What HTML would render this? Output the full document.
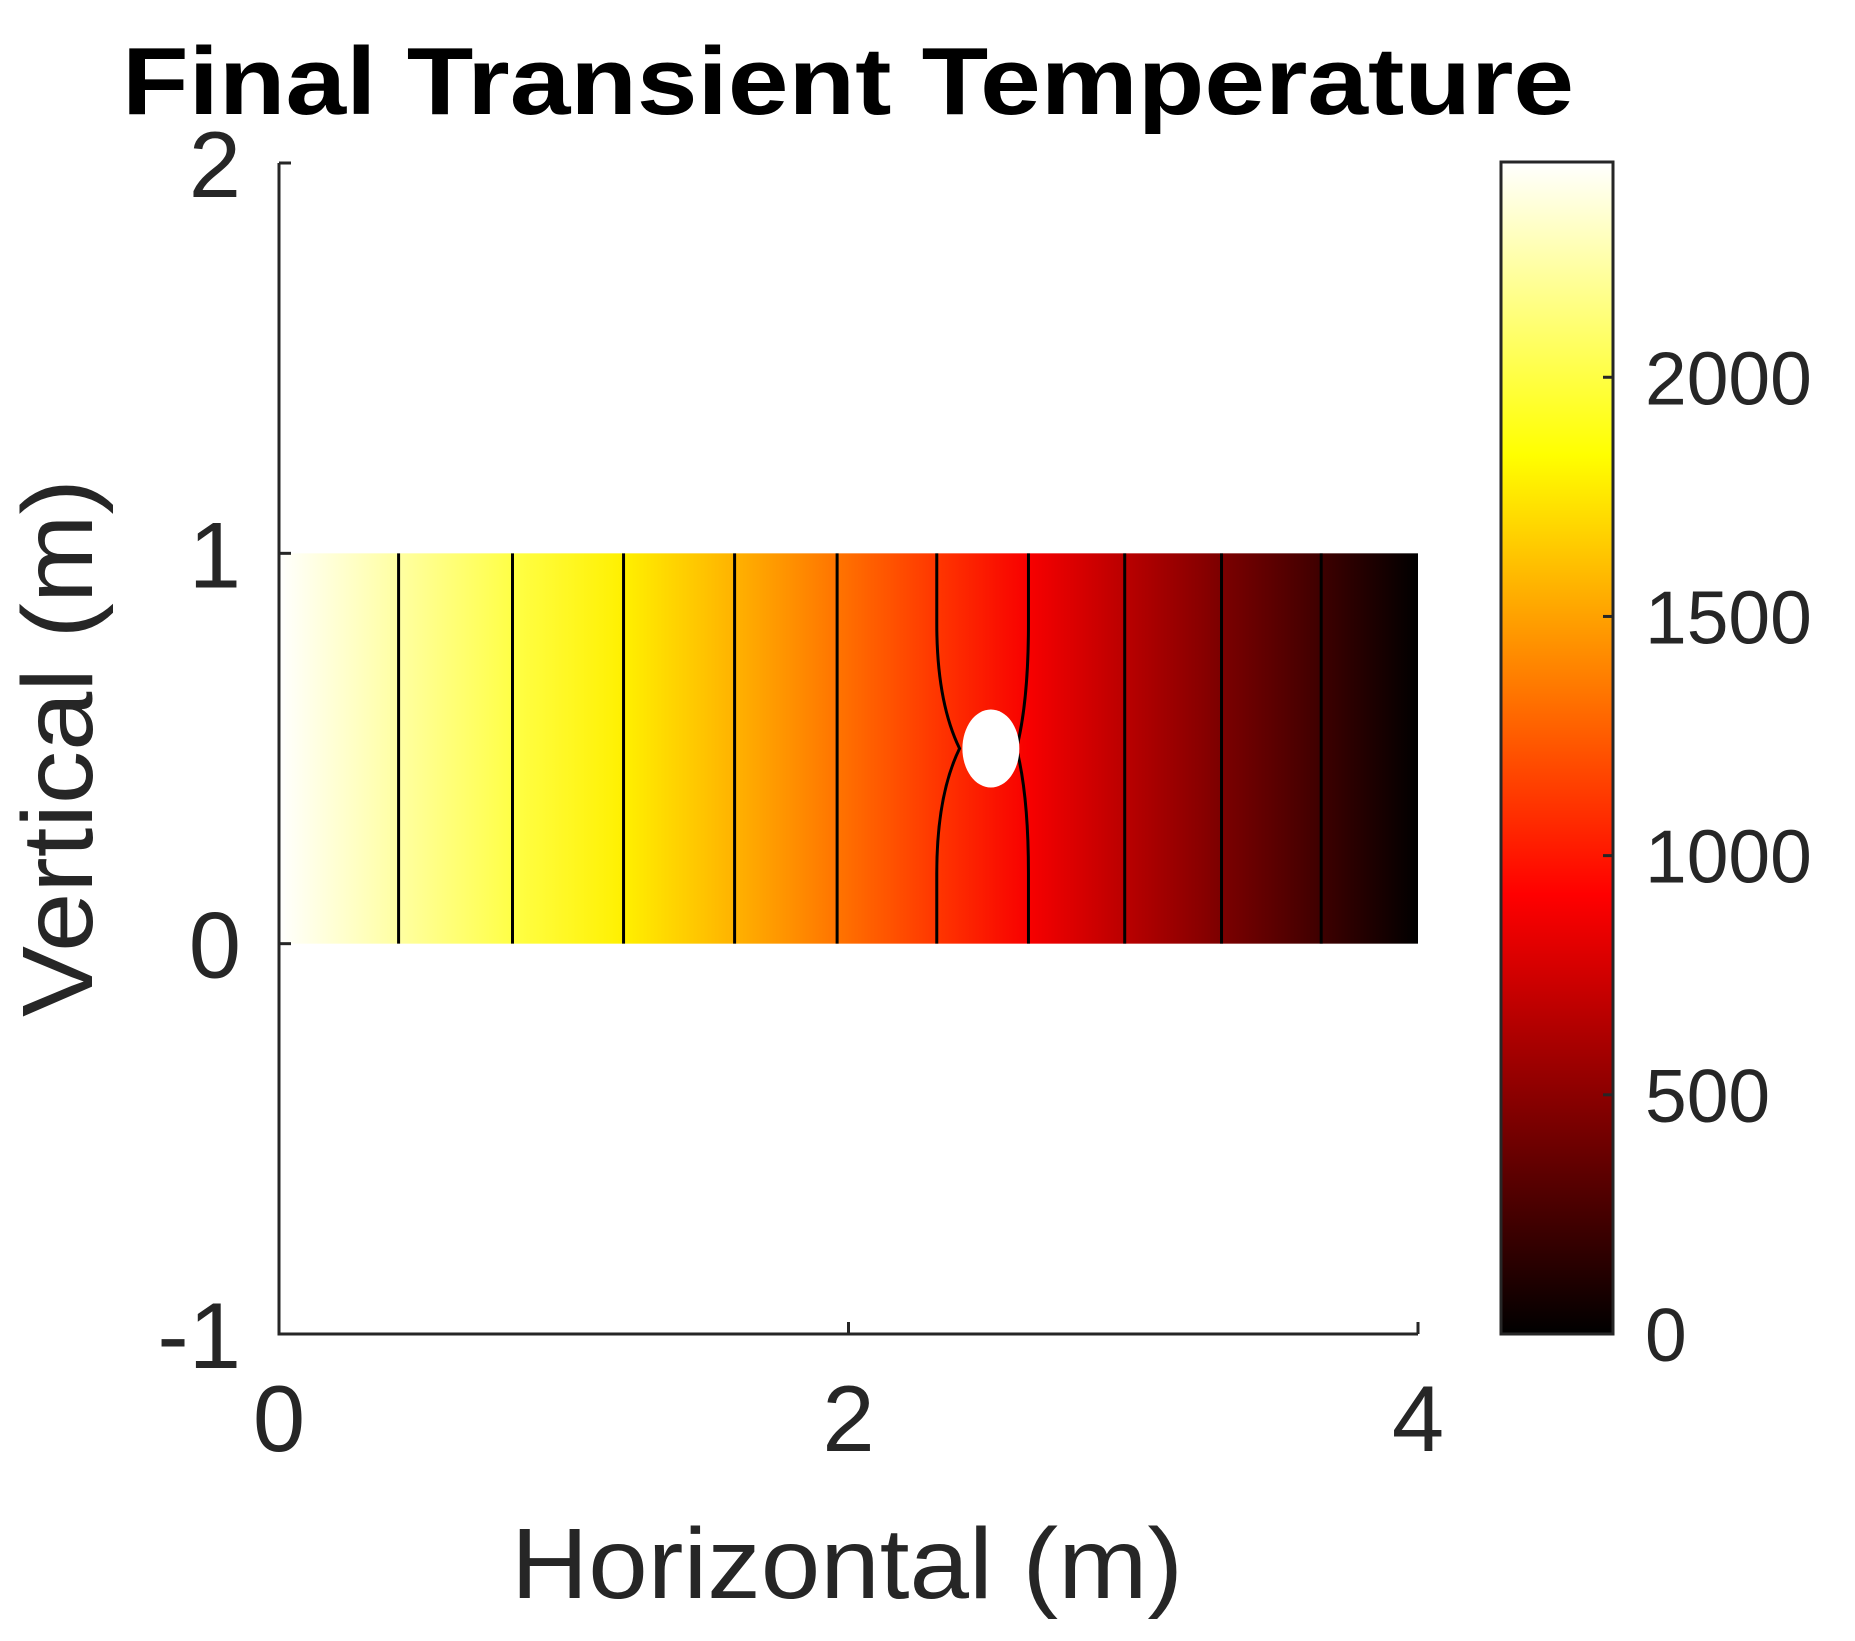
<!DOCTYPE html>
<html><head><meta charset="utf-8"><style>html,body{margin:0;padding:0;background:#fff}svg{display:block}</style></head>
<body>
<svg id="chart" width="1855" height="1641" viewBox="0 0 1855 1641" xmlns="http://www.w3.org/2000/svg" font-family="'Liberation Sans', sans-serif">
<defs>
<linearGradient id="fieldGrad" x1="0" y1="0" x2="1" y2="0"></linearGradient>
<linearGradient id="cbGrad" x1="0" y1="1" x2="0" y2="0"></linearGradient>
</defs>
<text x="848" y="114" text-anchor="middle" font-size="96" font-weight="bold" fill="#000" textLength="1452" lengthAdjust="spacingAndGlyphs">Final Transient Temperature</text>
<g id="plot"></g>
<text x="847" y="1598" text-anchor="middle" font-size="100" fill="#262626" textLength="672" lengthAdjust="spacingAndGlyphs">Horizontal (m)</text>
<text transform="translate(92,748) rotate(-90)" text-anchor="middle" font-size="100" fill="#262626" textLength="538" lengthAdjust="spacingAndGlyphs">Vertical (m)</text>
</svg>
<script>
const xTicks = [0, 2, 4];
const yTicks = [2, 1, 0, -1];
const cbTicks = [0, 500, 1000, 1500, 2000];
const cMax = 2450;
// temperature profile along x (domain 0..4, y 0..1)
const profileX = [0, 0.42, 0.82, 1.21, 1.6, 1.96, 2.31, 2.63, 2.97, 3.31, 3.66, 4];
const profileT = [2450, 2227, 2005, 1782, 1560, 1337, 1115, 892, 670, 447, 225, 0];
const contourX = [0.42, 0.82, 1.21, 1.6, 1.96, 3.31, 2.97, 3.66];
const holeCenter = [2.5, 0.5];
const holeRadius = 0.1;

const NS = 'http://www.w3.org/2000/svg';
const L = 279, R = 1418, T = 163, B = 1334;
const xMin = 0, xMax = 4, yMin = -1, yMax = 2;
const sx = v => L + (v - xMin) / (xMax - xMin) * (R - L);
const sy = v => B - (v - yMin) / (yMax - yMin) * (B - T);
const CB = {l: 1501, r: 1613, t: 162, b: 1334};
const cy = v => CB.b - v / cMax * (CB.b - CB.t);
function hot(t) {
  t = Math.max(0, Math.min(1, t));
  const r = Math.min(1, t / 0.375), g = Math.max(0, Math.min(1, (t - 0.375) / 0.375)), b = Math.max(0, (t - 0.75) / 0.25);
  return `rgb(${Math.round(r*255)},${Math.round(g*255)},${Math.round(b*255)})`;
}
function mk(tag, attrs, parent) {
  const e = document.createElementNS(NS, tag);
  for (const k in attrs) e.setAttribute(k, attrs[k]);
  parent.appendChild(e);
  return e;
}
const svg = document.getElementById('chart');
const plot = document.getElementById('plot');
const fg = document.getElementById('fieldGrad');
profileX.forEach((x, i) => {
  mk('stop', {offset: (x / 4), 'stop-color': hot(profileT[i] / cMax)}, fg);
});
const cg = document.getElementById('cbGrad');
for (let i = 0; i <= 16; i++) mk('stop', {offset: i / 16, 'stop-color': hot(i / 16)}, cg);

const field = mk('rect', {x: sx(0), y: sy(1), width: sx(4) - sx(0), height: sy(0) - sy(1), fill: 'url(#fieldGrad)'}, plot);



contourX.forEach(x => {
  const ln = mk('line', {x1: sx(x), x2: sx(x), y1: sy(1), y2: sy(0), stroke: '#000', 'stroke-width': 3}, plot);
  
  
});
[[2.31, 2.39], [2.632, 2.59]].forEach(([xe, xh]) => {
  const d = `M${sx(xe)},${sy(1)} L${sx(xe)},${sy(0.82)} Q${sx(xe)},${sy(0.62)} ${sx(xh)},${sy(0.5)} Q${sx(xe)},${sy(0.38)} ${sx(xe)},${sy(0.18)} L${sx(xe)},${sy(0)}`;
  const p = mk('path', {d, fill: 'none', stroke: '#000', 'stroke-width': 3}, plot);
  
  
});
const hole = mk('ellipse', {cx: sx(holeCenter[0]), cy: sy(holeCenter[1]), rx: sx(holeRadius) - sx(0), ry: sy(0) - sy(holeRadius), fill: '#fff'}, plot);



const ax = mk('path', {d: `M${L},${T} L${L},${B} L${R},${B}`, fill: 'none', stroke: '#262626', 'stroke-width': 3}, plot);


yTicks.forEach(v => {
  mk('line', {x1: L, x2: L + 12, y1: sy(v), y2: sy(v), stroke: '#262626', 'stroke-width': 3}, plot);
  const t = mk('text', {x: L - 38, y: sy(v) + 34, 'text-anchor': 'end', 'font-size': 94, fill: '#262626'}, plot);
  t.textContent = v;
  
  
});
xTicks.forEach(v => {
  mk('line', {x1: sx(v), x2: sx(v), y1: B, y2: B - 12, stroke: '#262626', 'stroke-width': 3}, plot);
  const t = mk('text', {x: sx(v), y: B + 117, 'text-anchor': 'middle', 'font-size': 94, fill: '#262626'}, plot);
  t.textContent = v;
  
  
});
const cb = mk('rect', {x: CB.l, y: CB.t, width: CB.r - CB.l, height: CB.b - CB.t, fill: 'url(#cbGrad)', stroke: '#262626', 'stroke-width': 3}, svg);


cbTicks.forEach(v => {
  mk('line', {x1: CB.r - 10, x2: CB.r, y1: cy(v), y2: cy(v), stroke: '#262626', 'stroke-width': 3}, svg);
  const t = mk('text', {x: 1645, y: cy(v) + 27, 'font-size': 75, fill: '#262626'}, svg);
  t.textContent = v;
  
  
});
</script>
</body></html>
